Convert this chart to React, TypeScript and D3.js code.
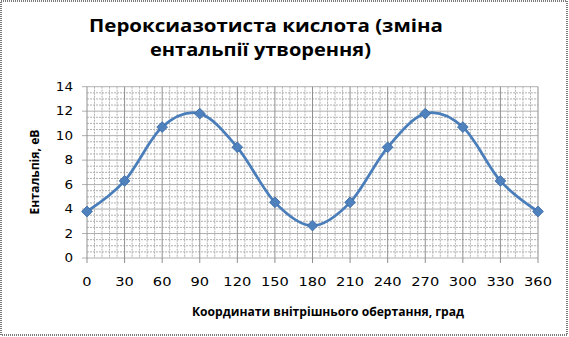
import React from "react";
import * as d3 from "d3";

const angles = [0, 30, 60, 90, 120, 150, 180, 210, 240, 270, 300, 330, 360];
const enthalpy = [3.8, 6.3, 10.7, 11.8, 9.05, 4.55, 2.65, 4.55, 9.05, 11.8, 10.7, 6.3, 3.8];
const yTicks = [0, 2, 4, 6, 8, 10, 12, 14];
const titleLines = ["Пероксиазотиста кислота (зміна", "ентальпії утворення)"];
const xTitle = "Координати внітрішнього обертання, град";
const yTitle = "Ентальпія, еВ";

const W = 569;
const H = 337;

export default function App() {
  const x = d3.scaleLinear().domain([0, 360]).range([87, 538]);
  const y = d3.scaleLinear().domain([0, 14]).range([258, 86.7]);

  const minorX = d3.range(0, 361, 6).filter((v) => v % 30 !== 0);
  const minorY = d3.range(0, 14.01, 0.5).filter((v) => v % 2 !== 0);

  const line = d3
    .line<number>()
    .x((_, i) => x(angles[i]))
    .y((d) => y(d))
    .curve(d3.curveCardinal.tension(0));

  const diamond = d3.symbol().type(d3.symbolSquare).size(58)();

  const font = "'DejaVu Sans', sans-serif";
  const boldFont = "'Open Sans', 'DejaVu Sans', sans-serif";

  return (
    <svg
      width={W}
      height={H}
      style={{ position: "absolute", left: 0, top: 0, background: "#fff" }}
    >
      <rect x={1} y={1} width={W - 3} height={H - 3} fill="#fff" stroke="#7a7a7a" strokeWidth={2} strokeDasharray="1 1" />

      {/* title */}
      <text x={89} y={31.5} fontFamily={boldFont} fontWeight="bold" fontSize={17.5} textLength={354} lengthAdjust="spacingAndGlyphs" fill="#000">
        {titleLines[0]}
      </text>
      <text x={150} y={55.5} fontFamily={boldFont} fontWeight="bold" fontSize={17.5} textLength={221} lengthAdjust="spacingAndGlyphs" fill="#000">
        {titleLines[1]}
      </text>

      {/* minor gridlines */}
      {minorX.map((v) => (
        <line key={"mx" + v} x1={x(v)} x2={x(v)} y1={y(14)} y2={y(0)} stroke="#b0b0b0" strokeWidth={1} strokeDasharray="2 1" />
      ))}
      {minorY.map((v) => (
        <line key={"my" + v} x1={x(0)} x2={x(360)} y1={y(v)} y2={y(v)} stroke="#b0b0b0" strokeWidth={1} strokeDasharray="2 1" />
      ))}
      {/* major gridlines */}
      {yTicks.map((v) => (
        <line key={"gy" + v} x1={x(0) - 5} x2={x(360)} y1={y(v)} y2={y(v)} stroke="#b0b0b0" strokeWidth={1} />
      ))}
      {angles.map((v) => (
        <line key={"gx" + v} x1={x(v)} x2={x(v)} y1={y(14)} y2={y(0) + 5} stroke="#909090" strokeWidth={1} />
      ))}

      {/* y tick labels */}
      {yTicks.map((v) => (
        <text key={"ty" + v} x={73} y={y(v) + 4.2} textAnchor="end" fontFamily={font} fontSize={11.5} fill="#000"
          textLength={String(v).length * 8.6} lengthAdjust="spacingAndGlyphs">
          {v}
        </text>
      ))}
      {/* x tick labels */}
      {angles.map((v) => (
        <text key={"tx" + v} x={x(v)} y={285.7} textAnchor="middle" fontFamily={font} fontSize={11.5} fill="#000"
          textLength={String(v).length * 9.3} lengthAdjust="spacingAndGlyphs">
          {v}
        </text>
      ))}

      {/* axis titles */}
      <text x={192} y={316} fontFamily={boldFont} fontWeight="bold" fontSize={12} textLength={272} lengthAdjust="spacingAndGlyphs" fill="#000">
        {xTitle}
      </text>
      <text transform={`translate(39,172) rotate(-90)`} textAnchor="middle" fontFamily={boldFont} fontWeight="bold" fontSize={13} textLength={85} lengthAdjust="spacingAndGlyphs" fill="#000">
        {yTitle}
      </text>

      {/* series */}
      <path d={line(enthalpy) || ""} fill="none" stroke="#4a7ebb" strokeWidth={2.75} strokeLinejoin="round" />
      {enthalpy.map((v, i) => (
        <path key={"m" + i} d={diamond || ""} transform={`translate(${x(angles[i])},${y(v)}) rotate(45)`} fill="#4f81bd" stroke="#3a6aa8" strokeWidth={0.8} />
      ))}
    </svg>
  );
}
